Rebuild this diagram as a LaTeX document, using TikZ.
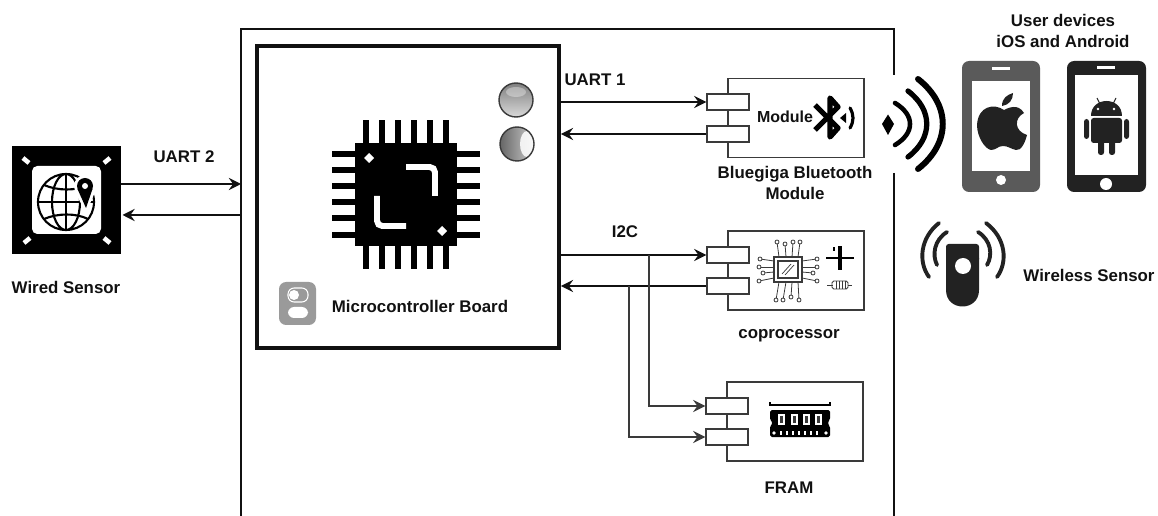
\documentclass[tikz,border=0pt]{standalone}
\usepackage{xcolor}
\usepackage{fontspec}
\setmainfont{Liberation Sans}
\usetikzlibrary{arrows.meta}
\definecolor{ink}{HTML}{111111}
\definecolor{edge}{HTML}{3A3A3A}
\definecolor{phoneA}{HTML}{5A5A5A}
\definecolor{phoneB}{HTML}{222222}
\definecolor{switchbg}{HTML}{9A9A9A}
\tikzset{
  >={Stealth[length=7pt,width=7pt,inset=2.5pt]},
  frame/.style={draw=ink, line width=1.5pt},
  sig/.style={draw=ink, line width=0.9pt},
  branch/.style={draw=edge, line width=0.9pt},
  board/.style={draw=ink, line width=2.2pt, minimum width=6.04cm, minimum height=6.04cm, inner sep=0pt},
  modbox/.style={draw=edge, line width=0.8pt, minimum width=2.72cm, minimum height=1.58cm, inner sep=0pt},
  port/.style={draw=edge, fill=white, line width=0.8pt, minimum width=0.84cm, minimum height=0.32cm, inner sep=0pt},
  sensor/.style={fill=black, minimum width=2.18cm, minimum height=2.16cm, inner sep=0pt},
  lab/.style={text=ink, font=\fontsize{9.6}{11.5}\selectfont\bfseries, align=center, inner sep=0pt},
  modlab/.style={text=ink, font=\fontsize{9.1}{11}\selectfont\bfseries, inner sep=0pt},
  wave/.style={draw=black, line cap=round},
  glob/.style={draw=black, line width=1.2pt},
  lead/.style={draw=edge, line width=0.45pt}
}

\begin{document}
\begin{tikzpicture}[x=0.02cm,y=-0.02cm]
  \useasboundingbox (0,0) rectangle (1158,516);

  % outer frame
  \draw[frame] (241,516) -- (241,29) -- (894,29) -- (894,75);
  \draw[frame] (894,173) -- (894,516);
  \coordinate (frameW) at (241,200);

  % blocks
  \node[board] (mcu) at (408,197) {};
  \node[sensor] (wired) at (66.5,200) {};
  \node[modbox] (ble) at (796,118) {};
  \node[modbox] (copro) at (796,270.5) {};
  \node[modbox] (fram) at (795,421.5) {};

  % ports
  \node[port] (bleA) at (728,102) {};
  \node[port] (bleB) at (728,134) {};
  \node[port] (coA) at (728,255) {};
  \node[port] (coB) at (728,286) {};
  \node[port] (frA) at (727,406) {};
  \node[port] (frB) at (727,437) {};

  % connectors
  \draw[sig,->] (mcu.east |- bleA) -- (bleA);
  \draw[sig,->] (bleB) -- (mcu.east |- bleB);
  \draw[sig,->] (mcu.east |- coA) -- (coA);
  \draw[sig,->] (coB) -- (mcu.east |- coB);
  \draw[branch,->] (649,255) -- (649,406) -- (frA);
  \draw[branch,->] (629,286) -- (629,437) -- (frB);
  \draw[sig,->] (121,184) -- (frameW |- 0,184);
  \draw[sig,->] (frameW |- 0,215) -- (122.5,215);

  % chip
  \fill[black] (355,143) rectangle (457,246);
  \foreach \p in {366,382,398,414,430,446} {
    \fill[black] (\p-3.3,120) rectangle (\p+3.3,269);
  }
  \foreach \p in {154,170,186,202,218,235} {
    \fill[black] (332,\p-3.3) rectangle (480,\p+3.3);
  }
  \draw[white, line width=3.4pt, rounded corners=3pt] (406,167) -- (435,167) -- (435,196);
  \draw[white, line width=3.4pt, rounded corners=3pt] (377,196) -- (377,226) -- (406,226);
  \fill[white] (369,153) -- (374,158) -- (369,163) -- (364,158) -- cycle;
  \fill[white] (442,226) -- (447,231) -- (442,236) -- (437,231) -- cycle;

  % leds
  \shade[top color=black!50, bottom color=black!15] (516,100) circle (17);
  \fill[white, opacity=0.35] (516,92) ellipse (10 and 5);
  \draw[edge, line width=0.8pt] (516,100) circle (17);
  \shade[left color=black!60, right color=black!20] (517,144) circle (17);
  \fill[white, opacity=0.85] (527,144) ellipse (7 and 13);
  \draw[edge, line width=0.8pt] (517,144) circle (17);

  % switch
  \fill[switchbg, rounded corners=4pt] (279,282) rectangle (316,325);
  \draw[white, line width=0.6pt, rounded corners=3.5pt] (288,288) rectangle (308,302);
  \fill[white] (294,295) circle (5);
  \fill[white, rounded corners=3.5pt] (288,307) rectangle (308,318);

  % wired sensor
  \fill[white, rounded corners=3pt] (32,166) rectangle (101,234);
  \draw[white, line width=2.6pt] (23,158) -- (29,163) (110,158) -- (104,163) (24,243) -- (30,238) (110,243) -- (104,238);
  \draw[glob] (66,202) circle (28) (66,202) ellipse (14 and 28);
  \draw[glob] (66,174) -- (66,230) (38,202) -- (94,202);
  \draw[glob] (44,185) .. controls (58,191) and (76,191) .. (88,185);
  \draw[glob] (44,219) .. controls (58,213) and (76,213) .. (88,219);
  \fill[white] (85,186) circle (11);
  \fill[white] (75,192) -- (86,213) -- (95,192) -- cycle;
  \fill[black] (85,186) circle (8);
  \fill[black] (77.5,189) -- (86,208) -- (92.5,189) -- cycle;
  \fill[white] (85,186) circle (3);

  % bluetooth
  \draw[black, line width=3pt, line join=round] (815,105) -- (838,128) -- (830,137) -- (830,98) -- (838,107) -- (815,130);
  \fill[black] (846,113) -- (840,118) -- (846,123) -- cycle;
  \draw[black, line width=1.8pt, line cap=round] (850,108) .. controls (854,115) and (854,121) .. (850,128);

  % coprocessor
  \foreach \xa/\ya/\xb/\yb in {779/257/777/242, 786/257/785/244, 792/257/793/242, 798/257/800/242,
      779/282/776/300, 786/282/783/300, 792/282/791/297, 798/282/799/300,
      774/261/760/259, 774/267/759/267, 774/272/763/273, 774/278/759/281,
      802/261/817/259, 802/267/817/267, 802/272/813/273, 802/278/817/281} {
    \draw[lead] (\xa,\ya) -- (\xb,\yb);
    \draw[lead, fill=white] (\xb,\yb) circle (2);
  }
  \draw[edge, fill=white, line width=0.8pt] (774,257) rectangle (802,282);
  \draw[edge, line width=0.8pt] (778,261) rectangle (798,278);
  \draw[edge, line width=0.4pt] (782,274) -- (791,264) (785,275) -- (794,265);
  \draw[black, line width=0.9pt] (826,258) -- (854,258);
  \fill[black] (838,246) rectangle (842,270);
  \fill[black] (833,247.5) rectangle (835,251);
  \draw[edge, line width=0.4pt] (827,285) -- (833,285) (848,285) -- (852,285);
  \draw[edge, line width=0.5pt, rounded corners=1pt] (832,281) rectangle (848,289);
  \foreach \p in {836,839,842,845} { \draw[edge, line width=0.4pt] (\p,281) -- (\p,289); }

  % memory
  \draw[black, line width=1.2pt] (770,402) -- (770,405) -- (830,405) -- (830,402);
  \fill[black, rounded corners=1pt] (770,410) -- (830,410) -- (830,420) -- (827,423) -- (830,426) -- (830,437) -- (770,437) -- (770,426) -- (773,423) -- (770,420) -- cycle;
  \foreach \p in {778,791,803,815} {
    \fill[white] (\p,414) rectangle (\p+7,425);
    \fill[edge] (\p+2,416) rectangle (\p+5,423);
  }
  \foreach \p in {780,786,792,798,804,810,816} { \fill[white] (\p,431) rectangle (\p+1.8,435); }
  \fill[white] (774,433) circle (1.8) (826,433) circle (1.8);

  % radio waves
  \fill[black] (888,114.5) -- (894,124) -- (888,135) -- (882,124) -- cycle;
  \draw[wave, line width=2.6pt] (895,103) .. controls (915,115) and (915,133) .. (895,145);
  \draw[wave, line width=3pt] (908,91) .. controls (933,110) and (933,138) .. (908,157);
  \draw[wave, line width=3.4pt] (918,79) .. controls (951,105) and (951,143) .. (918,169);

  % apple phone
  \fill[phoneA, rounded corners=4pt] (962,61) rectangle (1040,192);
  \fill[white] (972,81) rectangle (1030,171);
  \fill[white] (992,67.5) rectangle (1010,70.5);
  \fill[white] (1001,180) circle (5);
  \fill[phoneB] (1004,110) .. controls (1008,108) and (1018,103) .. (1024,113)
    .. controls (1014,118) and (1014,131) .. (1027,135)
    .. controls (1025,143) and (1021,151) .. (1016,150)
    .. controls (1011,149) and (1008,146) .. (1003,146)
    .. controls (998,146) and (996,150) .. (991,150)
    .. controls (985,149) and (977,137) .. (977,125)
    .. controls (978,106) and (994,103) .. (1004,110) -- cycle;
  \fill[phoneB] (1002,106) .. controls (1002,98) and (1007,95) .. (1013,93)
    .. controls (1013,100) and (1009,105) .. (1002,106) -- cycle;

  % android phone
  \fill[phoneB, rounded corners=4pt] (1067,61) rectangle (1146,192);
  \fill[white] (1075,75) rectangle (1138,175);
  \fill[white] (1097,66.5) rectangle (1115,69.5);
  \fill[white] (1106,184) circle (6);
  \fill[phoneB] (1091,116) .. controls (1091,96) and (1122,96) .. (1122,116) -- cycle;
  \draw[phoneB, line width=0.6pt] (1097,98) -- (1100,104) (1116,98) -- (1113,104);
  \fill[white] (1098,109) circle (1.4) (1114,109) circle (1.4);
  \fill[phoneB, rounded corners=1.5pt] (1091,118) rectangle (1122,143);
  \fill[phoneB, rounded corners=1.5pt] (1084,119) rectangle (1089,139) (1124,119) rectangle (1129,139);
  \fill[phoneB, rounded corners=1.5pt] (1098,135) rectangle (1104,155) (1109,135) rectangle (1115,155);

  % wireless sensor
  \fill[phoneB, rounded corners=1.5pt] (946,262) -- (946,244) -- (979,244) -- (979,262) -- cycle;
  \fill[phoneB] (946,258) -- (979,258) -- (979,290) .. controls (979,312) and (946,312) .. (946,290) -- cycle;
  \fill[white] (963,266) circle (8);
  \draw[wave, draw=phoneB, line width=2.2pt] (947,232) .. controls (934,240) and (932,255) .. (937,265);
  \draw[wave, draw=phoneB, line width=2.2pt] (939,223) .. controls (920,238) and (918,262) .. (929,277);
  \draw[wave, draw=phoneB, line width=2.2pt] (978,232) .. controls (991,240) and (993,255) .. (987,265);
  \draw[wave, draw=phoneB, line width=2.2pt] (986,223) .. controls (1006,238) and (1008,262) .. (997,277);

  % labels
  \node[lab] (uartOne) at (595,80) {UART 1};
  \node[lab] (uartTwo) at (184,157) {UART 2};
  \node[lab] (iic) at (625,232) {I2C};
  \node[lab] (wiredLab) at (66,287) {Wired Sensor};
  \node[lab] (mcuLab) at (420,306) {Microcontroller Board};
  \node[modlab] (modLab) at (785,117) {Module};
  \node[lab] (bleLab) at (795,183) {Bluegiga Bluetooth\\Module};
  \node[lab] (coLab) at (789,336) {coprocessor};
  \node[lab] (frLab) at (789,488) {FRAM};
  \node[lab] (userLab) at (1063,31) {User devices\\iOS and Android};
  \node[lab] (wlessLab) at (1089,275) {Wireless Sensor};
\end{tikzpicture}
\end{document}
